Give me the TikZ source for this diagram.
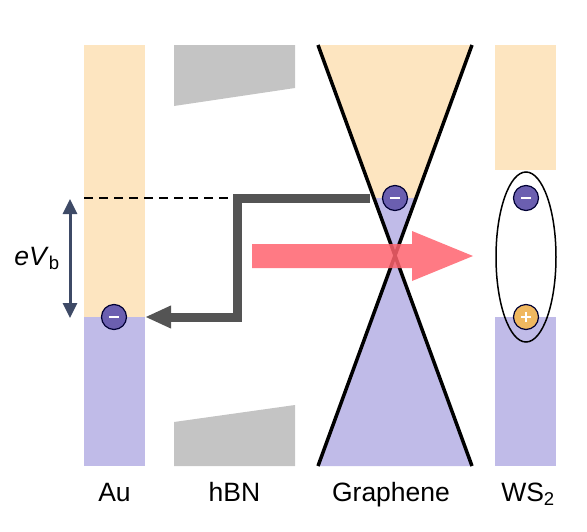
\documentclass[tikz,border=0pt]{standalone}
\usepackage{fontspec}
\setmainfont{Liberation Sans}
\usetikzlibrary{arrows.meta}

\definecolor{bandup}{HTML}{FDE5C0}
\definecolor{banddown}{HTML}{C0BBE8}
\definecolor{hbngray}{HTML}{C4C4C4}
\definecolor{tunnelgray}{HTML}{545454}
\definecolor{biasslate}{HTML}{3E4A66}
\definecolor{elecfill}{HTML}{6B5FB0}
\definecolor{holefill}{HTML}{F0B860}
\definecolor{lightred}{RGB}{255,99,110}

\newcommand{\elminus}{{\color{white}\rule[-1.3pt]{10pt}{2.6pt}}}
\newcommand{\elplus}{{\color{white}\rule[-1.3pt]{10pt}{2.6pt}\llap{\rule[-5pt]{2.6pt}{10pt}\hspace{3.7pt}}}}

\begin{document}
\begin{tikzpicture}[x=1pt, y=-1pt,
    electron/.style={circle, draw=black!80!blue, line width=1.2pt, fill=elecfill, minimum size=25pt, inner sep=0pt},
    hole/.style={circle, draw=black!80!blue, line width=1.2pt, fill=holefill, minimum size=25pt, inner sep=0pt},
    matlabel/.style={anchor=base, font=\fontsize{26.5}{30}\selectfont}]
    \useasboundingbox (0,0) rectangle (587,531);

    % Au
    \fill[bandup] (84,45) rectangle (145,317);
    \fill[banddown] (84,317) rectangle (145,466);

    % hBN
    \fill[hbngray] (174,45) -- (295,45) -- (295,88) -- (174,106) -- cycle;
    \fill[hbngray] (174,422) -- (295,405) -- (295,466) -- (174,466) -- cycle;

    % Graphene
    \fill[bandup] (318,45) -- (472,45) -- (395,255) -- cycle;
    \begin{scope}
        \clip (318,45) -- (472,45) -- (395,255) -- cycle;
        \fill[banddown] (318,198) rectangle (472,256);
    \end{scope}
    \fill[banddown] (395,255) -- (472,466) -- (318,466) -- cycle;
    \draw[line width=3.5pt] (318,45) -- (472,466);
    \draw[line width=3.5pt] (472,45) -- (318,466);

    % WS2
    \fill[bandup] (495,45) rectangle (556,170);
    \fill[banddown] (495,317) rectangle (556,466);
    \draw[line width=1.5pt] (526,257) ellipse [x radius=30pt, y radius=85pt];

    % bias
    \draw[line width=1.5pt, dash pattern=on 9pt off 6pt] (84,198) -- (232,198);
    \coordinate (biastop) at (70,199);
    \coordinate (biasbot) at (70,318);
    \draw[biasslate, line width=3pt, {Triangle[length=15pt,width=14pt]}-{Triangle[length=15pt,width=14pt]}] (biastop) -- (biasbot);
    \node at (37,265) [matlabel] (eVb) {\textit{eV}\textsubscript{b}};

    % carriers
    \node at (395,198) [electron] (eG) {\elminus};
    \node at (114,317) [electron] (eAu) {\elminus};
    \node at (526,198) [electron] (eW) {\elminus};
    \node at (526,317) [hole] (hW) {\elplus};

    % tunnelling path
    \coordinate (bend) at (237,317);
    \coordinate (AuEdge) at (145,317);
    \draw[tunnelgray, line width=9pt, -{Triangle[length=26pt,width=21pt]}] ([xshift=-12pt]eG.west) -| (bend) -- (AuEdge);

    % energy transfer
    \fill[lightred, fill opacity=0.85] (252,244) -- (412,244) -- (412,231) -- (473,256) -- (412,281) -- (412,268) -- (252,268) -- cycle;

    % labels
    \node at (114.5,501) [matlabel] (Au) {Au};
    \node at (234.5,501) [matlabel] (hBN) {hBN};
    \node at (391,501) [matlabel] (Gr) {Graphene};
    \node at (528,501) [matlabel] (WS) {WS\textsubscript{2}};
\end{tikzpicture}
\end{document}
